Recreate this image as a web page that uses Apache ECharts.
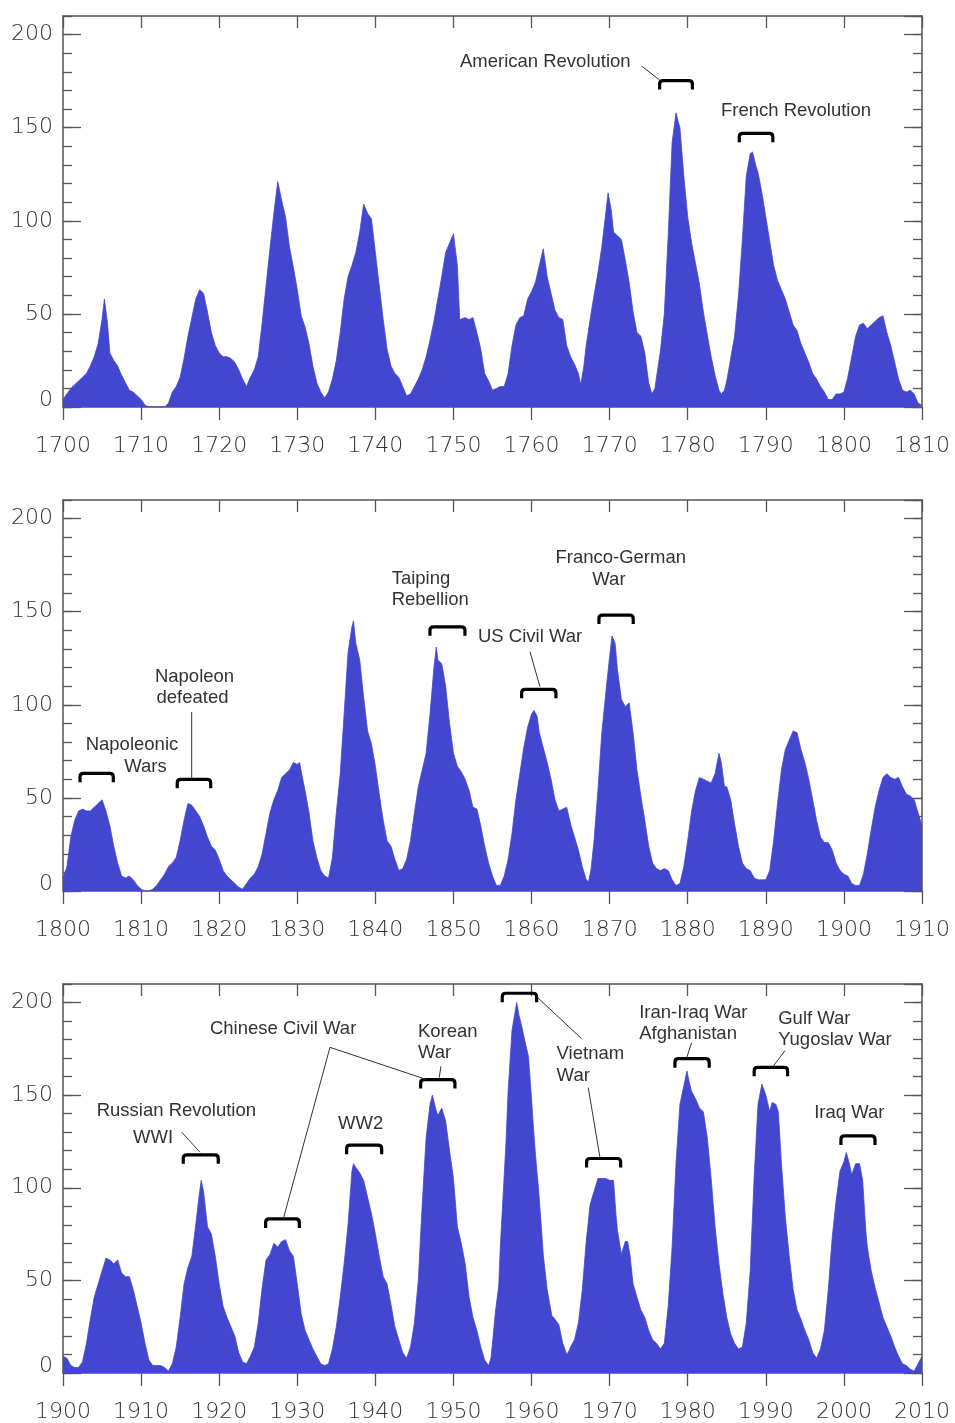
<!DOCTYPE html>
<html><head><meta charset="utf-8">
<script src="https://cdn.jsdelivr.net/npm/echarts@6/dist/echarts.min.js"></script>
<style>html,body{margin:0;padding:0;background:#fff}#c{width:955px;height:1423px}</style>
</head><body><div id="c"></div>
<script>
// ---------- data ----------
const xStarts = [1700, 1800, 1900];
const yTickValues = [0, 50, 100, 150, 200];

const spots1 = [[1700,4],[1700.5,7],[1701,10],[1701.5,12],[1702,14],[1702.5,16],[1703,18],[1703.5,22],[1704,27],[1704.5,34],[1705,47],[1705.3,58],[1705.7,45],[1706,29],[1706.5,25],[1707,22],[1707.5,17],[1708,13],[1708.5,9],[1709,8],[1709.5,6],[1710,4],[1710.5,1],[1711,0],[1712,0],[1713,0],[1713.5,2],[1714,8],[1714.5,11],[1715,16],[1715.5,26],[1716,38],[1716.5,48],[1717,58],[1717.5,63],[1718,61],[1718.5,51],[1719,40],[1719.5,33],[1720,29],[1720.5,27],[1721,27],[1721.5,26],[1722,24],[1722.5,20],[1723,15],[1723.5,11],[1724,16],[1724.5,20],[1725,27],[1725.5,45],[1726,65],[1726.5,85],[1727,104],[1727.5,121],[1728,111],[1728.5,102],[1729,86],[1729.5,75],[1730,63],[1730.5,49],[1731,43],[1731.5,34],[1732,22],[1732.5,13],[1733,8],[1733.5,5],[1734,8],[1734.5,15],[1735,25],[1735.5,40],[1736,58],[1736.5,70],[1737,76],[1737.5,83],[1738,94],[1738.5,109],[1739,104],[1739.5,101],[1740,83],[1740.5,65],[1741,47],[1741.5,31],[1742,22],[1742.5,18],[1743,16],[1743.5,11],[1744,6],[1744.5,7],[1745,11],[1745.5,15],[1746,20],[1746.5,27],[1747,36],[1747.5,46],[1748,58],[1748.5,70],[1749,83],[1749.5,88],[1750,93],[1750.5,76],[1750.8,47],[1751.5,48],[1752,47],[1752.5,48],[1753,40],[1753.5,31],[1754,18],[1754.5,14],[1755,9],[1755.5,10],[1756,11],[1756.5,11],[1757,18],[1757.5,33],[1758,44],[1758.5,48],[1759,49],[1759.5,58],[1760,62],[1760.5,67],[1761,76],[1761.5,85],[1762,70],[1762.5,61],[1763,52],[1763.5,48],[1764,47],[1764.5,33],[1765,27],[1765.5,23],[1766,18],[1766.3,12],[1766.7,22],[1767,33],[1767.5,47],[1768,60],[1768.5,72],[1769,86],[1769.5,104],[1769.8,115],[1770.2,106],[1770.5,94],[1771,92],[1771.5,90],[1772,79],[1772.5,67],[1773,51],[1773.5,40],[1774,38],[1774.5,29],[1775,13],[1775.4,7],[1775.8,10],[1776,16],[1776.5,30],[1777,50],[1777.5,92],[1778,142],[1778.5,158],[1778.8,153],[1779,150],[1779.5,124],[1780,102],[1780.5,88],[1781,77],[1781.5,66],[1782,51],[1782.5,39],[1783,27],[1783.5,17],[1784,9],[1784.3,7],[1784.7,9],[1785,14],[1785.5,26],[1786,38],[1786.5,60],[1787,90],[1787.5,124],[1788,136],[1788.3,137],[1788.7,130],[1789,126],[1789.5,115],[1790,102],[1790.5,89],[1791,76],[1791.5,68],[1792,63],[1792.5,58],[1793,51],[1793.5,44],[1794,41],[1794.5,34],[1795,29],[1795.5,24],[1796,18],[1796.5,15],[1797,11],[1797.5,8],[1798,4],[1798.5,4],[1799,7],[1799.5,7],[1800,8],[1800.5,16],[1801,27],[1801.5,38],[1802,44],[1802.5,45],[1803,42],[1803.5,44],[1804,46],[1804.5,48],[1805,49],[1805.5,40],[1806,33],[1806.5,24],[1807,15],[1807.5,9],[1808,8],[1808.5,9],[1809,7],[1809.5,2],[1810,1]];

const spots2 = [[1800,7],[1800.5,13],[1801,29],[1801.5,38],[1802,43],[1802.5,44],[1803,43],[1803.5,43],[1804,45],[1804.5,47],[1805,49],[1805.5,43],[1806,35],[1806.5,24],[1807,15],[1807.5,8],[1808,7],[1808.5,8],[1809,6],[1809.5,3],[1810,1],[1810.5,0],[1811,0],[1811.5,1],[1812,3],[1812.5,6],[1813,9],[1813.5,13],[1814,15],[1814.5,18],[1815,27],[1815.5,38],[1816,47],[1816.5,46],[1817,43],[1817.5,40],[1818,35],[1818.5,29],[1819,24],[1819.5,22],[1820,17],[1820.5,11],[1821,8],[1821.5,6],[1822,4],[1822.5,2],[1823,1],[1823.5,4],[1824,7],[1824.5,9],[1825,13],[1825.5,20],[1826,31],[1826.5,42],[1827,49],[1827.5,54],[1828,61],[1828.5,63],[1829,65],[1829.5,69],[1830,68],[1830.3,69],[1830.7,60],[1831,54],[1831.5,42],[1832,27],[1832.5,18],[1833,11],[1833.5,8],[1834,7],[1834.5,18],[1835,42],[1835.5,63],[1836,95],[1836.5,128],[1837,142],[1837.2,145],[1837.5,133],[1838,124],[1838.5,104],[1839,86],[1839.5,79],[1840,67],[1840.5,52],[1841,38],[1841.5,27],[1842,24],[1842.5,17],[1843,11],[1843.5,12],[1844,17],[1844.5,27],[1845,42],[1845.5,56],[1846,65],[1846.5,74],[1847,95],[1847.5,120],[1847.8,131],[1848,124],[1848.5,122],[1849,110],[1849.5,90],[1850,74],[1850.5,67],[1851,64],[1851.5,60],[1852,54],[1852.5,45],[1853,44],[1853.5,35],[1854,24],[1854.5,15],[1855,8],[1855.5,3],[1856,3],[1856.5,8],[1857,17],[1857.5,31],[1858,49],[1858.5,63],[1859,77],[1859.5,88],[1860,95],[1860.3,97],[1860.7,94],[1861,85],[1861.5,77],[1862,69],[1862.5,60],[1863,49],[1863.5,43],[1864,44],[1864.5,45],[1865,36],[1865.5,29],[1866,22],[1866.5,13],[1867,6],[1867.3,5],[1867.6,11],[1868,27],[1868.5,54],[1869,85],[1869.5,106],[1870,126],[1870.3,137],[1870.7,133],[1871,119],[1871.5,103],[1872,99],[1872.5,101],[1873,85],[1873.5,65],[1874,51],[1874.5,38],[1875,24],[1875.5,15],[1876,12],[1876.5,11],[1877,12],[1877.5,11],[1878,6],[1878.5,3],[1879,4],[1879.5,13],[1880,27],[1880.5,43],[1881,54],[1881.5,61],[1882,60],[1882.5,59],[1883,58],[1883.5,63],[1884,74],[1884.3,69],[1884.7,56],[1885,56],[1885.5,49],[1886,36],[1886.5,24],[1887,15],[1887.5,12],[1888,11],[1888.5,7],[1889,6],[1889.5,6],[1890,6],[1890.5,11],[1891,27],[1891.5,47],[1892,65],[1892.5,76],[1893,81],[1893.5,86],[1894,85],[1894.5,76],[1895,69],[1895.5,60],[1896,49],[1896.5,38],[1897,29],[1897.5,26],[1898,26],[1898.5,22],[1899,15],[1899.5,11],[1900,9],[1900.5,8],[1901,4],[1901.5,3],[1902,3],[1902.5,9],[1903,20],[1903.5,33],[1904,45],[1904.5,54],[1905,61],[1905.5,63],[1906,61],[1906.5,60],[1907,61],[1907.5,56],[1908,52],[1908.5,51],[1909,49],[1909.5,42],[1910,35]];

const spots3 = [[1900,9],[1900.5,8],[1901,4],[1901.5,3],[1902,3],[1902.5,6],[1903,16],[1903.5,29],[1904,41],[1904.5,48],[1905,55],[1905.5,62],[1906,61],[1906.5,59],[1907,61],[1907.5,54],[1908,52],[1908.5,52],[1909,45],[1909.5,36],[1910,27],[1910.5,16],[1911,7],[1911.5,4],[1912,4],[1912.5,4],[1913,3],[1913.5,1],[1914,5],[1914.5,14],[1915,30],[1915.5,48],[1916,57],[1916.5,63],[1917,80],[1917.5,98],[1917.7,104],[1918,98],[1918.5,79],[1919,75],[1919.5,63],[1920,48],[1920.5,36],[1921,30],[1921.5,25],[1922,20],[1922.5,11],[1923,6],[1923.5,5],[1924,9],[1924.5,14],[1925,27],[1925.5,46],[1926,61],[1926.5,64],[1927,70],[1927.5,68],[1928,71],[1928.5,72],[1929,66],[1929.5,63],[1930,48],[1930.5,32],[1931,23],[1931.5,18],[1932,13],[1932.5,9],[1933,5],[1933.5,4],[1934,5],[1934.5,13],[1935,25],[1935.5,41],[1936,59],[1936.5,80],[1937,109],[1937.2,113],[1937.5,111],[1938,108],[1938.5,104],[1939,95],[1939.5,86],[1940,75],[1940.5,63],[1941,52],[1941.5,48],[1942,37],[1942.5,25],[1943,18],[1943.5,11],[1944,8],[1944.5,14],[1945,27],[1945.5,50],[1946,91],[1946.5,127],[1947,145],[1947.3,150],[1947.7,143],[1948,139],[1948.5,143],[1949,136],[1949.5,120],[1950,105],[1950.5,79],[1951,70],[1951.5,59],[1952,41],[1952.5,30],[1953,23],[1953.5,14],[1954,7],[1954.5,4],[1954.8,8],[1955,16],[1955.4,34],[1955.8,47],[1956,68],[1956.4,99],[1956.7,122],[1957,152],[1957.5,185],[1958.1,200],[1958.4,193],[1958.7,188],[1959,182],[1959.6,171],[1960,148],[1960.2,135],[1960.5,118],[1960.9,99],[1961.2,82],[1961.5,64],[1962,45],[1962.6,31],[1963,29],[1963.5,26],[1964,16],[1964.5,10],[1964.8,12],[1965,14],[1965.5,18],[1966,27],[1966.5,45],[1967,71],[1967.5,91],[1968,98],[1968.5,105],[1969,105],[1969.5,105],[1970,104],[1970.5,104],[1970.8,86],[1971,77],[1971.5,64],[1972,71],[1972.3,71],[1972.6,64],[1973,48],[1973.5,41],[1974,34],[1974.5,30],[1975,23],[1975.5,18],[1976,16],[1976.5,13],[1977,16],[1977.5,36],[1978,68],[1978.5,113],[1979,145],[1979.5,155],[1979.9,163],[1980.2,157],[1980.5,152],[1981,148],[1981.5,143],[1982,141],[1982.5,127],[1983,105],[1983.5,79],[1984,59],[1984.5,43],[1985,30],[1985.5,21],[1986,16],[1986.5,13],[1987,14],[1987.5,27],[1988,55],[1988.5,105],[1989,145],[1989.5,156],[1990,150],[1990.5,141],[1990.8,146],[1991.3,145],[1991.6,141],[1992,113],[1992.5,84],[1993,63],[1993.5,45],[1994,34],[1994.5,29],[1995,23],[1995.5,18],[1996,11],[1996.5,8],[1997,13],[1997.5,23],[1998,45],[1998.5,73],[1999,93],[1999.5,109],[2000,114],[2000.3,119],[2000.7,113],[2001,107],[2001.5,113],[2002,113],[2002.4,104],[2002.8,77],[2003,68],[2003.5,55],[2004,46],[2004.5,38],[2005,30],[2005.5,25],[2006,20],[2006.5,14],[2007,9],[2007.5,5],[2008,4],[2008.5,2],[2009,1],[2009.5,5],[2010,9]];

// annotations: brackets [startYear, endYear, value]
const brackets1 = [[1776.4,1780.6,175.3],[1786.6,1790.9,147]];
const brackets2 = [[1802.18,1806.44,63.2],[1814.63,1818.91,60],[1846.99,1851.47,141.9],[1858.73,1863.12,108.3],[1868.63,1873.02,148.2]];
const brackets3 = [[1915.4,1919.88,117.8],[1925.95,1930.26,83.2],[1936.32,1940.81,123],[1945.8,1950.19,158.4],[1956.25,1960.65,205],[1967.05,1971.41,115.8],[1978.36,1982.75,169.7],[1988.51,1992.79,165],[1999.62,2003.98,128]];
// leader lines [x1, y1, x2, y2]
const leaders1 = [[1774.1,183.1,1776.4,175.6]];
const leaders2 = [[1816.48,96.1,1816.48,60.2],[1859.8,128.5,1861.08,109.7]];
const leaders3 = [[1915.2,130,1917.54,119.2],[1934.19,175.8,1928.21,83.2],[1934.19,175.8,1946.57,158.4],[1948.4,165.6,1948.18,159.5],[1960.65,203.2,1966.41,180.5],[1967.26,154.1,1968.76,116.4],[1980.5,178.3,1979.86,170.1],[1992.45,174,1990.95,165.6]];
// labels [text, year, value, align]
const labels1 = [['American Revolution',1750.83,185.3,'left'],['French Revolution',1784.25,159,'left']];
const labels2 = [['Napoleonic',1808.83,78.4,'center'],['Wars',1810.56,66.6,'center'],['Napoleon',1816.84,114.9,'center'],['defeated',1816.58,103.7,'center'],['Taiping',1842.09,167.6,'left'],['Rebellion',1842.09,156.3,'left'],['US Civil War',1853.14,136.7,'left'],['Franco-German',1871.42,179,'center'],['War',1869.91,167,'center']];
const labels3 = [['Russian Revolution',1904.31,141.4,'left'],['WWI',1908.96,126.7,'left'],['Chinese Civil War',1918.82,185.7,'left'],['Korean',1945.45,184.2,'left'],['War',1945.45,172.9,'left'],['WW2',1935.21,134.6,'left'],['Vietnam',1963.21,172.2,'left'],['War',1963.21,160.6,'left'],['Iran-Iraq War',1973.79,194.6,'left'],['Afghanistan',1973.79,183,'left'],['Gulf War',1991.59,191.2,'left'],['Yugoslav War',1991.59,179.8,'left'],['Iraq War',1996.2,140.5,'left']];

// ---------- layout / style ----------
const panels = [
  {spots: spots1, brackets: brackets1, leaders: leaders1, labels: labels1},
  {spots: spots2, brackets: brackets2, leaders: leaders2, labels: labels2},
  {spots: spots3, brackets: brackets3, leaders: leaders3, labels: labels3}
];
const tops = [16, 500, 984];
const FILL = '#4347cf';
const FRAME = '#555';
const TICKFONT = {fontFamily: 'DejaVu Sans', fontSize: 22, fontWeight: 200, color: '#333'};
const ANNFONT = '18.5px "Liberation Sans", Arial, sans-serif';

const grid = [], xAxis = [], yAxis = [], series = [];
panels.forEach((p, i) => {
  grid.push({left: 63, top: tops[i], width: 859, height: 391});
  const xmin = xStarts[i], xmax = xStarts[i] + 110;
  const line = {show: true, onZero: false, lineStyle: {color: FRAME, width: 1.5}};
  xAxis.push({gridIndex: i, type: 'value', min: xmin, max: xmax, interval: 10, position: 'bottom',
    axisLine: line, axisTick: {show: true, inside: false, length: 13, lineStyle: {color: FRAME, width: 1.3}},
    axisLabel: Object.assign({show: true, margin: 28, formatter: v => String(v)}, TICKFONT),
    splitLine: {show: false}});
  xAxis.push({gridIndex: i, type: 'value', min: xmin, max: xmax, interval: 10, position: 'top',
    axisLine: line, axisTick: {show: true, inside: true, length: 12, lineStyle: {color: FRAME, width: 1.3}},
    axisLabel: {show: false}, splitLine: {show: false}});
  ['left', 'right'].forEach(pos => {
    yAxis.push({gridIndex: i, type: 'value', min: 0, max: 210, interval: 50, position: pos,
      axisLine: line, axisTick: {show: true, inside: true, length: 18, lineStyle: {color: FRAME, width: 1.3}},
      axisLabel: pos === 'left' ? Object.assign({show: true, margin: 10, showMaxLabel: false,
        formatter: v => yTickValues.indexOf(v) < 0 ? '' : (v === 0 ? '{z|0}' : String(v)),
        rich: {z: {padding: [0, 0, 14, 0], fontFamily: 'DejaVu Sans', fontSize: 22, fontWeight: 200, color: '#333'}}}, TICKFONT) : {show: false},
      splitLine: {show: false}});
    yAxis.push({gridIndex: i, type: 'value', min: 0, max: 210, interval: 10, position: pos,
      axisLine: {show: false, onZero: false}, axisTick: {show: true, inside: true, length: 9, lineStyle: {color: FRAME, width: 1.3}},
      axisLabel: {show: false}, splitLine: {show: false}});
  });
  const xi = i * 2, yi = i * 4;
  series.push({type: 'line', xAxisIndex: xi, yAxisIndex: yi, data: p.spots, showSymbol: false, symbol: 'none',
    lineStyle: {width: 0.8, color: FILL}, areaStyle: {color: FILL, opacity: 1}, silent: true, z: 2});
  series.push({type: 'custom', xAxisIndex: xi, yAxisIndex: yi, data: p.brackets, encode: {x: [0, 1], y: 2}, z: 5, silent: true,
    renderItem: (params, api) => {
      const a = api.coord([api.value(0), api.value(2)]);
      const b = api.coord([api.value(1), api.value(2)]);
      const w = b[0] - a[0], h = 9, r = 3.5;
      return {type: 'path', shape: {pathData: `M0 ${h}L0 ${r}Q0 0 ${r} 0L${w - r} 0Q${w} 0 ${w} ${r}L${w} ${h}`,
        x: a[0], y: a[1], width: w, height: h, layout: 'cover'},
        style: {stroke: '#000', fill: null, lineWidth: 3.2}};
    }});
  series.push({type: 'custom', xAxisIndex: xi, yAxisIndex: yi, data: p.leaders, encode: {x: [0, 2], y: [1, 3]}, z: 5, silent: true,
    renderItem: (params, api) => {
      const a = api.coord([api.value(0), api.value(1)]);
      const b = api.coord([api.value(2), api.value(3)]);
      return {type: 'line', shape: {x1: a[0], y1: a[1], x2: b[0], y2: b[1]}, style: {stroke: '#333', lineWidth: 1}};
    }});
  series.push({type: 'custom', xAxisIndex: xi, yAxisIndex: yi, data: p.labels.map(l => [l[1], l[2]]), encode: {x: 0, y: 1}, z: 6, silent: true,
    renderItem: (params, api) => {
      const l = p.labels[params.dataIndex];
      const c = api.coord([api.value(0), api.value(1)]);
      return {type: 'text', x: c[0], y: c[1], style: {text: l[0], fill: '#333', font: ANNFONT, align: l[3], verticalAlign: 'middle'}};
    }});
});

const chart = echarts.init(document.getElementById('c'), null, {renderer: 'canvas'});
chart.setOption({animation: false, backgroundColor: '#fff', grid, xAxis, yAxis, series});
</script>
</body></html>
